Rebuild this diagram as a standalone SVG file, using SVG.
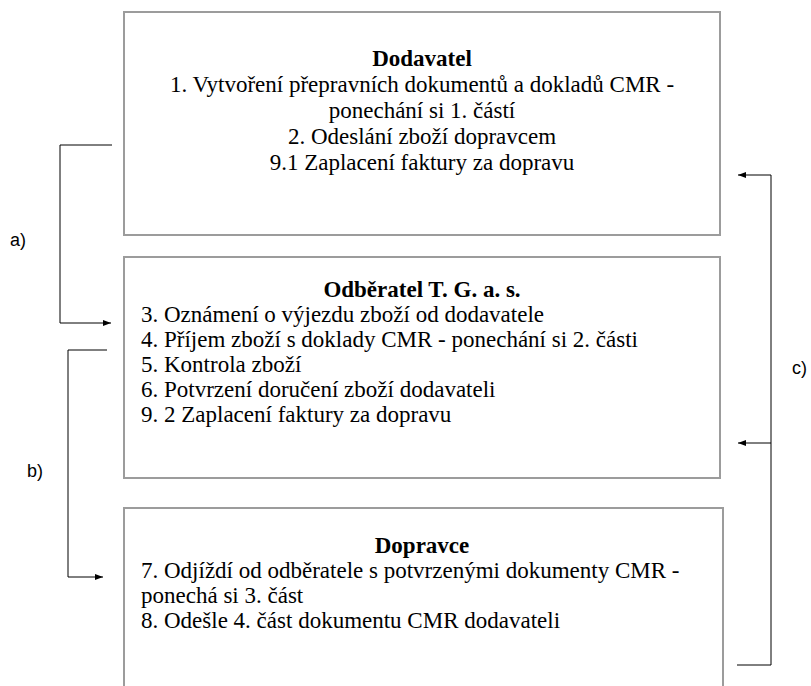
<svg xmlns="http://www.w3.org/2000/svg" width="811" height="686" viewBox="0 0 811 686">
<style>
.box{fill:#fff;stroke:#9c9c9c;stroke-width:2}
.t{font-family:"Liberation Serif","Times New Roman",serif;font-size:23px;fill:#000}
.c{text-anchor:middle}
.b{font-weight:bold}
.lab{font-family:"Liberation Sans",Arial,sans-serif;font-size:18px;fill:#000}
.ln{fill:none;stroke:#000;stroke-width:1}
</style>
<defs>
<marker id="ah" markerWidth="8" markerHeight="6" refX="8" refY="3" orient="auto" markerUnits="userSpaceOnUse">
<path d="M0,0 L8,3 L0,6 Z" fill="#000"/>
</marker>
</defs>
<rect width="811" height="686" fill="#fff"/>
<g id="dodavatel">
<rect class="box" x="124" y="12" width="596" height="223"/>
<text class="t c b" x="422" y="66">Dodavatel</text>
<text class="t c" x="422" y="92">1. Vytvoření přepravních dokumentů a dokladů CMR -</text>
<text class="t c" x="422" y="118">ponechání si 1. částí</text>
<text class="t c" x="422" y="144">2. Odeslání zboží dopravcem</text>
<text class="t c" x="422" y="170">9.1 Zaplacení faktury za dopravu</text>
</g>
<g id="odberatel">
<rect class="box" x="124" y="257" width="596" height="221"/>
<text class="t c b" x="422" y="297">Odběratel T. G. a. s.</text>
<text class="t" x="141" y="322">3. Oznámení o výjezdu zboží od dodavatele</text>
<text class="t" x="141" y="347">4. Příjem zboží s doklady CMR - ponechání si 2. části</text>
<text class="t" x="141" y="372">5. Kontrola zboží</text>
<text class="t" x="141" y="397">6. Potvrzení doručení zboží dodavateli</text>
<text class="t" x="141" y="422">9. 2 Zaplacení faktury za dopravu</text>
</g>
<g id="dopravce">
<rect class="box" x="124" y="508" width="599" height="200"/>
<text class="t c b" x="422" y="553">Dopravce</text>
<text class="t" x="141" y="578">7. Odjíždí od odběratele s potvrzenými dokumenty CMR -</text>
<text class="t" x="141" y="603">ponechá si 3. část</text>
<text class="t" x="141" y="628">8. Odešle 4. část dokumentu CMR dodavateli</text>
</g>
<g id="connectors">
<path class="ln" d="M112,145 H60 V323 H111" marker-end="url(#ah)"/>
<path class="ln" d="M107,350 H68 V577 H103" marker-end="url(#ah)"/>
<path class="ln" d="M737,665 H771 V175 H738" marker-end="url(#ah)"/>
<path class="ln" d="M771,443 H738" marker-end="url(#ah)"/>
</g>
<g id="labels">
<text class="lab" x="10" y="246">a)</text>
<text class="lab" x="27" y="477">b)</text>
<text class="lab" x="792" y="374">c)</text>
</g>
</svg>
